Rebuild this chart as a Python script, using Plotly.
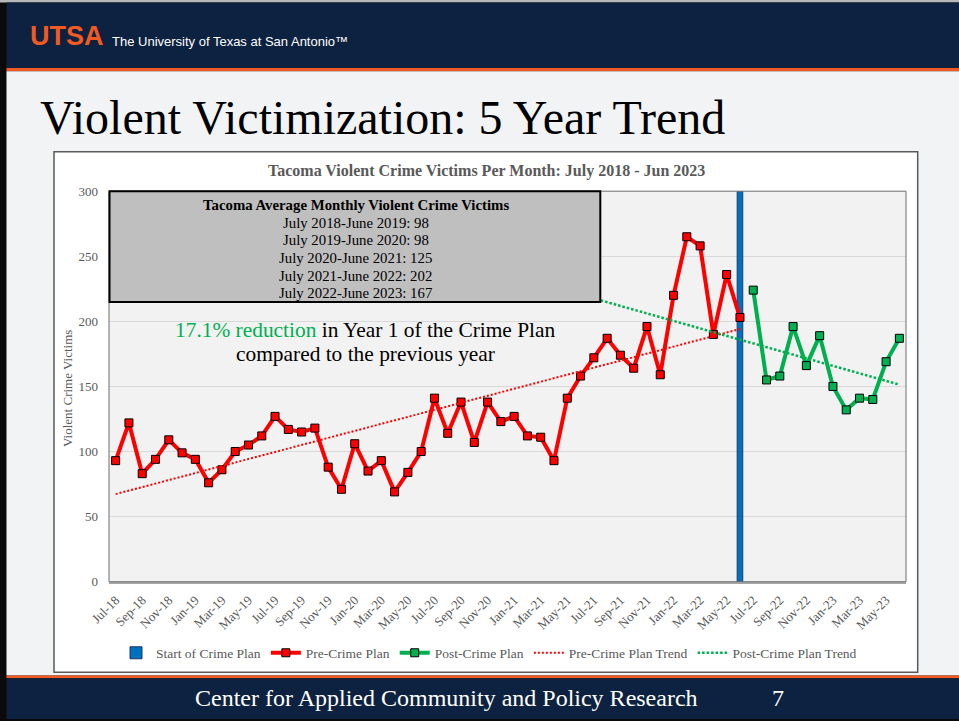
import numpy as np
import pandas as pd
import plotly.graph_objects as go

# ---------------- data ----------------
months = pd.date_range("2018-07-01", periods=60, freq="MS").strftime("%b-%y").tolist()

pre_values = [93, 122, 83, 94, 109, 99, 94, 76, 86, 100, 105, 112,
              127, 117, 115, 118, 88, 71, 106, 85, 93, 69, 84, 100,
              141, 114, 138, 107, 138, 123, 127, 112, 111, 93, 141, 158,
              172, 187, 174, 164, 196, 159, 220, 265, 258, 190, 236, 203]
post_values = [224, 155, 158, 196, 166, 189, 150, 132, 141, 140, 169, 187]

plan_start_month = "Jun-22"
plan_start_value = 300

box_title = "Tacoma Average Monthly Violent Crime Victims"
box_lines = ["July 2018-June 2019: 98",
             "July 2019-June 2020: 98",
             "July 2020-June 2021: 125",
             "July 2021-June 2022: 202",
             "July 2022-June 2023: 167"]

# ---------------- helpers ----------------
W, H = 959, 721
def px(x):
    return x / W
def py(y):
    return 1 - y / H

SERIF = "Liberation Serif"
GRAY_TXT = "#595959"
RED = "#ff0000"
GREEN = "#00b050"
BLUE = "#0070c0"
NAVY = "#0d2240"
ORANGE = "#f15a22"

idx = np.arange(len(months))
pre_idx = idx[:len(pre_values)]
post_idx = idx[len(pre_values):]

# linear trends (least squares)
pre_fit = np.polyfit(pre_idx, pre_values, 1)
post_fit = np.polyfit(post_idx, post_values, 1)
pre_trend_x = pre_idx
pre_trend_y = np.polyval(pre_fit, pre_trend_x)
post_trend_x = np.arange(post_idx[0] - 18, post_idx[-1] + 1)
post_trend_y = np.polyval(post_fit, post_trend_x)

plan_idx = months.index(plan_start_month)

fig = go.Figure()

fig.add_trace(go.Bar(
    x=[plan_idx], y=[plan_start_value], width=0.42,
    name="Start of Crime Plan",
    marker=dict(color=BLUE, line=dict(color="#1f3864", width=1)),
))
fig.add_trace(go.Scatter(
    x=pre_idx, y=pre_values, mode="lines+markers", name="Pre-Crime Plan",
    line=dict(color=RED, width=4),
    marker=dict(symbol="square", size=8, color=RED, line=dict(color="#000000", width=1)),
))
fig.add_trace(go.Scatter(
    x=post_idx, y=post_values, mode="lines+markers", name="Post-Crime Plan",
    line=dict(color=GREEN, width=4),
    marker=dict(symbol="square", size=8, color=GREEN, line=dict(color="#000000", width=1)),
))
fig.add_trace(go.Scatter(
    x=pre_trend_x, y=pre_trend_y, mode="lines", name="Pre-Crime Plan Trend",
    line=dict(color=RED, width=2, dash="2px,2px"),
))
fig.add_trace(go.Scatter(
    x=post_trend_x, y=post_trend_y, mode="lines", name="Post-Crime Plan Trend",
    line=dict(color=GREEN, width=2.5, dash="2.5px,2px"),
))

PX0, PX1, PY0, PY1 = 109, 906, 191.2, 581.7

shapes = [
    # slide frame / header / footer
    dict(type="rect", xref="paper", yref="paper", x0=0, x1=1, y0=py(0), y1=py(2.5),
         fillcolor="#b8b8b8", line_width=0, layer="below"),
    dict(type="rect", xref="paper", yref="paper", x0=px(6.5), x1=1, y0=py(2.5), y1=py(68),
         fillcolor=NAVY, line_width=0, layer="below"),
    dict(type="rect", xref="paper", yref="paper", x0=px(6.5), x1=1, y0=py(68), y1=py(71.3),
         fillcolor=ORANGE, line_width=0, layer="below"),
    dict(type="rect", xref="paper", yref="paper", x0=px(6.5), x1=1, y0=py(71.3), y1=py(675.5),
         fillcolor="#f2f3f5", line_width=0, layer="below"),
    dict(type="rect", xref="paper", yref="paper", x0=px(6.5), x1=1, y0=py(675.5), y1=py(678.3),
         fillcolor=ORANGE, line_width=0, layer="below"),
    dict(type="rect", xref="paper", yref="paper", x0=px(6.5), x1=1, y0=py(678.3), y1=py(719),
         fillcolor=NAVY, line_width=0, layer="below"),
    # chart box
    dict(type="rect", xref="paper", yref="paper", x0=px(54), x1=px(917.7), y0=py(672.3), y1=py(151.7),
         fillcolor="#ffffff", line=dict(color="#595959", width=1.5), layer="below"),
    # plot area background
    dict(type="rect", xref="paper", yref="paper", x0=px(PX0), x1=px(PX1), y0=py(PY1), y1=py(PY0),
         fillcolor="#f2f2f2", line_width=0, layer="below"),
    # plot area border
    dict(type="rect", xref="paper", yref="paper", x0=px(PX0), x1=px(PX1), y0=py(PY1), y1=py(PY0),
         fillcolor="rgba(0,0,0,0)", line=dict(color="#6f6f6f", width=1), layer="above"),
    # averages box
    dict(type="rect", xref="paper", yref="paper", x0=px(PX0 + 0.5), x1=px(600.3), y0=py(302), y1=py(PY0),
         fillcolor="#bfbfbf", line=dict(color="#000000", width=2), layer="above"),
]

ann = []
# header
ann.append(dict(text="<b>UTSA</b>", x=px(28), y=py(36), xref="paper", yref="paper",
                xanchor="left", yanchor="middle", showarrow=False,
                font=dict(family="Liberation Sans", size=27, color=ORANGE)))
ann.append(dict(text="The University of Texas at San Antonio\u2122", x=px(110), y=py(42), xref="paper", yref="paper",
                xanchor="left", yanchor="middle", showarrow=False,
                font=dict(family="Liberation Sans", size=13, color="#ffffff")))
# slide title
ann.append(dict(text="Violent Victimization: 5 Year Trend", x=px(38), y=py(117), xref="paper", yref="paper",
                xanchor="left", yanchor="middle", showarrow=False,
                font=dict(family=SERIF, size=48, color="#000000")))
# chart title
ann.append(dict(text="<b>Tacoma Violent Crime Victims Per Month: July 2018 - Jun 2023</b>",
                x=px(486), y=py(171), xref="paper", yref="paper",
                xanchor="center", yanchor="middle", showarrow=False,
                font=dict(family=SERIF, size=16, color=GRAY_TXT)))
# y axis title
ann.append(dict(text="Violent Crime Victims", x=px(67), y=py(389), xref="paper", yref="paper",
                xanchor="center", yanchor="middle", showarrow=False, textangle=-90,
                font=dict(family=SERIF, size=13, color=GRAY_TXT)))
# box text
ann.append(dict(text="<b>" + box_title + "</b>", x=px(355.5), y=py(205), xref="paper", yref="paper",
                xanchor="center", yanchor="middle", showarrow=False,
                font=dict(family=SERIF, size=14.8, color="#000000")))
line_y = [222.7, 240.2, 257.8, 275.6, 293.2]
for t, yy in zip(box_lines, line_y):
    ann.append(dict(text=t, x=px(355.5), y=py(yy), xref="paper", yref="paper",
                    xanchor="center", yanchor="middle", showarrow=False,
                    font=dict(family=SERIF, size=14.8, color="#000000")))
# reduction note
ann.append(dict(text="<span style='color:" + GREEN + "'>17.1% reduction</span> in Year 1 of the Crime Plan",
                x=px(365.5), y=py(330), xref="paper", yref="paper",
                xanchor="center", yanchor="middle", showarrow=False,
                font=dict(family=SERIF, size=21.4, color="#000000")))
ann.append(dict(text="compared to the previous year",
                x=px(365.5), y=py(354), xref="paper", yref="paper",
                xanchor="center", yanchor="middle", showarrow=False,
                font=dict(family=SERIF, size=21.4, color="#000000")))
# footer
ann.append(dict(text="Center for Applied Community and Policy Research", x=px(446), y=py(698), xref="paper", yref="paper",
                xanchor="center", yanchor="middle", showarrow=False,
                font=dict(family=SERIF, size=24, color="#ffffff")))
ann.append(dict(text="7", x=px(778), y=py(698), xref="paper", yref="paper",
                xanchor="center", yanchor="middle", showarrow=False,
                font=dict(family=SERIF, size=24, color="#ffffff")))

fig.update_layout(
    width=W, height=H,
    margin=dict(l=0, r=0, t=0, b=0, pad=0, autoexpand=False),
    paper_bgcolor="#0a0a0a",
    plot_bgcolor="rgba(0,0,0,0)",
    showlegend=True,
    barmode="overlay",
    shapes=shapes,
    annotations=ann,
    legend=dict(orientation="h", x=px(489), xanchor="center", y=py(653), yanchor="middle",
                bgcolor="rgba(0,0,0,0)", font=dict(family=SERIF, size=13.5, color=GRAY_TXT),
                traceorder="normal", itemwidth=30),
    xaxis=dict(domain=[px(PX0), px(PX1)], range=[-0.5, len(months) - 0.5], automargin=False,
               tickmode="array", tickvals=idx[::2].tolist(), ticktext=months[::2],
               tickangle=-45, showgrid=False, zeroline=False,
               showline=True, linecolor="#a6a6a6", linewidth=1.5, ticks="",
               ticklabelstandoff=4,
               tickfont=dict(family=SERIF, size=13, color=GRAY_TXT)),
    yaxis=dict(domain=[py(PY1), py(PY0)], range=[0, 300], dtick=50, automargin=False,
               showgrid=True, gridcolor="#d9d9d9", gridwidth=1, zeroline=False,
               showline=False, ticks="", ticklabelstandoff=10,
               tickfont=dict(family=SERIF, size=13, color=GRAY_TXT)),
)

fig.write_html("out.html",
               config={"displayModeBar": False},
               post_script="document.body.style.margin='0';document.body.style.overflow='hidden';")
